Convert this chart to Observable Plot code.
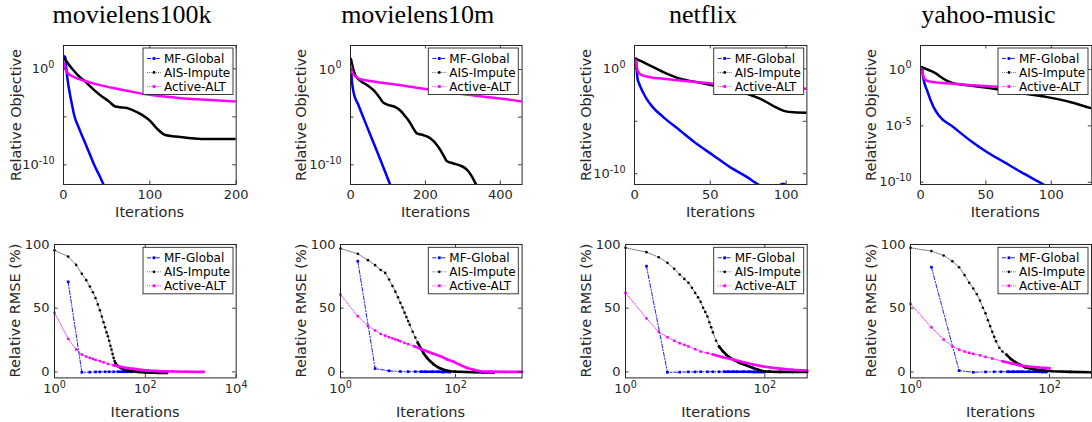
<!DOCTYPE html>
<html><head><meta charset="utf-8">
<script src="https://cdn.jsdelivr.net/npm/d3@7"></script>
<script src="https://cdn.jsdelivr.net/npm/@observablehq/plot@0.6"></script>
<style>
html,body{margin:0;padding:0;background:#fff;overflow:hidden;}
#fig{position:relative;width:1092px;height:422px;overflow:hidden;background:#fff;}
#fig > div.panel{position:absolute;}
#fig svg{max-width:none;}
#overlay{position:absolute;left:0;top:0;pointer-events:none;overflow:visible;}
</style></head><body><div id="fig"></div>
<script>
// ---------------- DATA ----------------
const datasets = ["movielens100k", "movielens10m", "netflix", "yahoo-music"];
const seriesNames = ["MF-Global", "AIS-Impute", "Active-ALT"];

// Relative objective: [iteration, log10(value)]
const objLog_ml100k_MF  = [[1,1.3],[2,1.2],[3,0.3],[4,-0.6],[5,-1.3],[6,-1.9],[8,-2.9],[10,-3.8],[12,-4.7],[18,-6.2],[24,-7.5],[30,-8.8],[36,-10.1],[42,-11.2],[48,-12.4]];
const objLog_ml100k_AIS = [[1,1.1],[10,0.0],[20,-0.95],[25,-1.3],[30,-1.75],[43,-2.78],[52,-3.35],[60,-3.93],[65,-4.0],[72,-4.05],[80,-4.3],[90,-4.75],[100,-5.4],[108,-6.2],[118,-6.9],[130,-7.05],[145,-7.2],[160,-7.3],[200,-7.3]];
const objLog_ml100k_ALT = [[1,0.55],[3,-0.2],[6,-0.52],[12,-0.85],[23,-1.22],[40,-1.65],[62,-2.08],[80,-2.4],[100,-2.7],[120,-2.92],[140,-3.1],[170,-3.25],[200,-3.4]];

const objLog_ml10m_MF  = [[1,1.1],[2,0.2],[3,-0.8],[6,-1.9],[9,-2.55],[20,-3.63],[40,-5.6],[60,-7.55],[80,-9.5],[100,-11.5],[112,-12.7]];
const objLog_ml10m_AIS = [[1,1.1],[13,-0.63],[30,-1.3],[45,-1.65],[62,-2.2],[75,-2.8],[88,-3.5],[106,-3.78],[120,-3.95],[133,-4.3],[145,-4.85],[155,-5.35],[165,-6.0],[177,-6.7],[195,-6.9],[208,-7.1],[221,-7.5],[230,-7.9],[239,-8.4],[248,-9.0],[257,-9.6],[274,-9.85],[292,-10.07],[304,-10.3],[314,-10.66],[325,-11.3],[336,-12.1],[345,-12.6]];
const objLog_ml10m_ALT = [[1,0.4],[4,-0.28],[10,-0.6],[18,-0.87],[30,-1.05],[62,-1.26],[100,-1.48],[151,-1.75],[200,-2.05],[240,-2.3],[290,-2.55],[329,-2.73],[400,-3.05],[458,-3.36]];

const objLog_netflix_MF  = [[1,0.95],[2,-0.95],[3,-1.4],[4,-1.75],[6,-2.35],[8,-2.86],[12,-3.65],[19,-4.6],[30,-5.87],[41,-7.14],[52,-8.25],[63,-9.37],[74,-10.3],[82,-11.05],[90,-11.6],[98,-10.95],[104,-11.6]];
const objLog_netflix_AIS = [[1,0.95],[8,0.48],[19,-0.32],[30,-0.95],[41,-1.27],[52,-1.59],[63,-1.9],[74,-2.38],[85,-3.0],[93,-3.65],[99,-4.03],[105,-4.15],[114,-4.19]];
const objLog_netflix_ALT = [[1,0.8],[2,-0.16],[4,-0.54],[8,-0.73],[19,-0.95],[30,-1.11],[52,-1.43],[74,-1.68],[96,-1.81],[114,-1.9]];

const objLog_yahoo_MF  = [[1,0.2],[2,-0.68],[5,-1.86],[10,-3.34],[14,-4.08],[25,-5.1],[38,-6.3],[51,-7.34],[64,-8.22],[77,-9.1],[94,-10.2],[97,-10.4]];
const objLog_yahoo_AIS = [[1,0.2],[10,-0.24],[20,-0.98],[25,-1.21],[38,-1.42],[51,-1.63],[77,-2.1],[97,-2.45],[115,-2.9],[131,-3.45]];
const objLog_yahoo_ALT = [[1,0.06],[3,-0.83],[7,-1.07],[25,-1.27],[51,-1.48],[77,-1.63],[95,-1.7]];

// Relative RMSE (%): [iteration, value]
const rmse_ml100k_MF  = [[2,70.7],[4,-0.3],[6,-0.2],[8,0],[10,0],[13,0.1],[16,0.1],[20,0.1],[25,0.1],[32,0.1],[40,0.1],[50,0.1]];
const rmse_ml100k_AIS = [[1,95.5],[2,90.5],[3,84],[4,77],[5,72],[6,67],[7,62.5],[8,58],[9,53],[10,48.4],[11,43.5],[12,39],[13,35],[14,31],[15,28],[16,24.5],[17,20.5],[18,17.5],[19,14],[20,11],[21,8.5],[22,7],[24,5],[26,4],[30,2.8],[35,1.8],[40,1.2],[50,0.6],[70,0],[100,-0.5],[150,-0.7],[200,-0.8],[300,-0.8]];
const rmse_ml100k_ALT = [[1,46.3],[2,26],[3,17.6],[4,13.6],[5,12],[6,11],[7,10.2],[8,9.5],[10,8.5],[12,7.5],[15,6.3],[20,5.2],[25,4.5],[30,3.8],[40,3],[55,2.4],[80,1.6],[120,1],[200,0.6],[400,0.3],[800,0.1],[1900,0]];

const rmse_ml10m_MF  = [[2,86.9],[4,2.6],[7,0.8],[11,0.3],[15,0.2],[20,0.2],[25,0.1],[30,0.1],[40,0.1],[50,0.1],[60,0],[80,0]];
const rmse_ml10m_AIS = [[1,96.9],[2,92.7],[3,87.7],[4,83.8],[5,80],[6,77.7],[7,72.5],[8,67.5],[9,63],[10,58.5],[11,54.2],[12,50.5],[13,46.5],[14,43],[15,40],[16,37],[18,31.5],[20,27],[22,23],[25,18.5],[28,14.5],[32,11],[36,8.5],[42,5.8],[50,3.6],[55,2.6],[65,1.5],[82,0.5],[100,0.2],[150,-0.1],[209,-0.3],[300,-0.4],[465,-0.5]];
const rmse_ml10m_ALT = [[1,60.7],[2,43.7],[3,35.9],[4,32.5],[5,29.8],[6,28.5],[7,27.2],[8,26.3],[9,25.5],[10,24.8],[11,24.1],[13,22.8],[15,21.8],[19,20.2],[25,18],[32,16.2],[40,14.5],[55,12.3],[70,10],[93,7.9],[120,5.5],[159,3.1],[200,1.8],[272,0.5],[400,0.2],[700,0],[1439,0]];

const rmse_netflix_MF  = [[2,83],[4,-0.3],[6,-0.2],[8,0],[10,0],[12,0.1],[15,0.1],[18,0.1],[22,0.1],[26,0.1],[30,0.1],[35,0.1],[40,0.1],[50,0.1],[60,0.1],[70,0],[80,0],[90,0],[100,0]];
const rmse_netflix_AIS = [[1,97.4],[2,94],[3,90],[4,85.6],[5,81],[6,76.5],[7,73],[8,70],[9,66],[10,62],[11,58.5],[12,55],[13,50.3],[14,47],[15,43.5],[16,39],[17,35],[18,31],[20,24.5],[22,20],[25,16.2],[28,13.5],[31,11.5],[37,9],[44,7],[55,5],[68,3.1],[80,1.8],[95,0.5],[120,0.2],[165,0],[250,0],[406,0]];
const rmse_netflix_ALT = [[1,62],[2,42],[3,31.4],[4,27.2],[5,24.5],[6,22.5],[7,21.2],[8,20],[10,17.8],[12,16],[15,14.8],[18,13.6],[25,11.5],[35,9.7],[50,7.5],[68,5.8],[100,4],[165,2.6],[250,1.7],[406,1]];

const rmse_yahoo_MF  = [[2,82.2],[5,1],[8,-0.3],[12,0],[16,0.1],[20,0.1],[25,0.1],[30,0.1],[35,0.1],[40,0.1],[50,0.1],[60,0.1],[70,0.1],[80,0],[90,0]];
const rmse_yahoo_AIS = [[1,97.4],[2,94.8],[3,91.4],[4,86.9],[5,82.2],[6,76],[7,69.9],[8,65.5],[9,61],[10,56],[11,50.3],[12,46],[13,40.5],[14,35.9],[15,31.5],[16,27.5],[17,24],[19,19],[21,16],[24,13.6],[28,10],[32,7.8],[37,5.8],[45,3.5],[64,1.8],[85,1],[111,0.5],[200,0],[402,-0.3]];
const rmse_yahoo_ALT = [[1,53.4],[2,35],[3,25.4],[4,20],[5,17.5],[6,16],[7,15],[8,14.2],[10,13],[12,11.8],[15,10.5],[21,8.4],[28,6.8],[37,5.2],[50,4.2],[70,3.5],[90,3.1],[100,2.9]];

// Ticks
const objXTicks = [[0,100,200],[0,200,400],[0,50,100],[0,50,100]];
const objYTicks = [1, 1e-5, 1e-10];
const objYTickLabels = [[1,1e-10],[1,1e-10],[1,1e-10],[1,1e-5,1e-10]];
const rmseXTicks = [[1,100,1e4],[1,100],[1,100],[1,100]];
const rmseYTicks = [0, 50, 100];

// ---------------- LAYOUT ----------------
const topFrames = [
  {x0:63.3, x1:236, y0:45, y1:184},
  {x0:349.7, x1:521.3, y0:45, y1:184},
  {x0:634.3, x1:806.7, y0:45, y1:184},
  {x0:919.7, x1:1091, y0:45, y1:184}];
const botFrames = [
  {x0:54.3, x1:236, y0:244.3, y1:377.7},
  {x0:339.7, x1:521.3, y0:244.3, y1:377.7},
  {x0:625, x1:806.7, y0:244.3, y1:377.7},
  {x0:910, x1:1091, y0:244.3, y1:377.7}];
const topXDomains = [[0,200],[0,458],[0,113.7],[0,131]];
const topYLogDomains = [[-12.05,2.43],[-12.07,2.52],[-11.02,2.22],[-10.2,2.13]];
const botXDomains = [[1,1e4],[1,1439],[1,406],[1,402]];
const botYDomain = [-4.7, 100];
const titleX = [132, 417.7, 703, 988.5];
const ylabX = [15.5, 301.3, 586, 871.3];

const objSeries = [
  [objLog_ml100k_MF, objLog_ml100k_AIS, objLog_ml100k_ALT],
  [objLog_ml10m_MF, objLog_ml10m_AIS, objLog_ml10m_ALT],
  [objLog_netflix_MF, objLog_netflix_AIS, objLog_netflix_ALT],
  [objLog_yahoo_MF, objLog_yahoo_AIS, objLog_yahoo_ALT]];
const rmseSeries = [
  [rmse_ml100k_MF, rmse_ml100k_AIS, rmse_ml100k_ALT],
  [rmse_ml10m_MF, rmse_ml10m_AIS, rmse_ml10m_ALT],
  [rmse_netflix_MF, rmse_netflix_AIS, rmse_netflix_ALT],
  [rmse_yahoo_MF, rmse_yahoo_AIS, rmse_yahoo_ALT]];

const COLORS = ["#0000ff", "#000000", "#ff00ff"];
const THIN = [
  {w:0.9, dash:"4,1.8,1.2,1.8", sym:"square", r:1.5},
  {w:0.6, dash:"1,1.2", sym:"circle", r:1.3},
  {w:0.8, dash:"1,1.2", sym:"square", r:1.4}];
const DENSE_FROM = [25, 22, 16];
const AX = "#262626";
const fig = document.getElementById("fig");
const svgNS = "http://www.w3.org/2000/svg";
const ML = 70, MR = 6, MT = 6, MB = 30;

function superscripts(svg) {
  svg.querySelectorAll("text").forEach(t => {
    const m = /^10\^(-?\d+)$/.exec(t.textContent);
    if (m) {
      t.textContent = "10";
      const ts = document.createElementNS(svgNS, "tspan");
      ts.setAttribute("dy", "-0.55em");
      ts.setAttribute("font-size", "0.74em");
      ts.textContent = m[1];
      t.appendChild(ts);
    }
  });
}
const fmtPow = d => "10^" + Math.round(Math.log10(d));

function frameMarks(fr, xt, yt) {
  const fw = fr.x1 - fr.x0, fh = fr.y1 - fr.y0, L = 3.5;
  return [
    Plot.ruleX(xt, {x: d => d, insetTop: fh - L, stroke: AX, strokeWidth: 0.9}),
    Plot.ruleX(xt, {x: d => d, insetBottom: fh - L, stroke: AX, strokeWidth: 0.9}),
    Plot.ruleY(yt, {y: d => d, insetRight: fw - L, stroke: AX, strokeWidth: 0.9}),
    Plot.ruleY(yt, {y: d => d, insetLeft: fw - L, stroke: AX, strokeWidth: 0.9}),
    Plot.frame({stroke: AX, strokeWidth: 1})
  ];
}

function place(fr, opts) {
  const fw = fr.x1 - fr.x0, fh = fr.y1 - fr.y0;
  const W = fw + ML + MR, H = fh + MT + MB;
  const svg = Plot.plot(Object.assign({
    width: W, height: H,
    marginLeft: ML, marginRight: MR, marginTop: MT, marginBottom: MB,
    style: {background: "transparent", fontFamily: "DejaVu Sans", fontSize: "13px", color: AX, overflow: "visible", maxWidth: "none"}
  }, opts));
  superscripts(svg);
  const div = document.createElement("div");
  div.className = "panel";
  div.style.left = (fr.x0 - ML) + "px";
  div.style.top = (fr.y0 - MT) + "px";
  div.style.width = W + "px";
  div.style.height = H + "px";
  div.appendChild(svg);
  fig.appendChild(div);
}

// ---- top row: relative objective ----
for (let p = 0; p < 4; p++) {
  const fr = topFrames[p];
  const marks = [];
  objSeries[p].forEach((arr, s) => {
    const data = arr.map(([it, e]) => ({it, v: Math.pow(10, e)}));
    marks.push(Plot.line(data, {x: "it", y: "v", stroke: COLORS[s], strokeWidth: 2.5, curve: "monotone-x", clip: true}));
  });
  marks.push(...frameMarks(fr, objXTicks[p], objYTicks));
  place(fr, {
    x: {type: "linear", domain: topXDomains[p], ticks: objXTicks[p], tickFormat: d => String(d), tickSize: 0, tickPadding: 5, label: null},
    y: {type: "log", domain: [Math.pow(10, topYLogDomains[p][0]), Math.pow(10, topYLogDomains[p][1])], ticks: objYTickLabels[p], tickFormat: fmtPow, tickSize: 0, tickPadding: 9, label: null},
    marks
  });
}

// ---- bottom row: relative RMSE ----
for (let p = 0; p < 4; p++) {
  const fr = botFrames[p];
  const marks = [];
  rmseSeries[p].forEach((arr, s) => {
    const data = arr.map(([it, v]) => ({it, v}));
    const st = THIN[s];
    marks.push(Plot.line(data, {x: "it", y: "v", stroke: COLORS[s], strokeWidth: st.w, strokeDasharray: st.dash, clip: true}));
    marks.push(Plot.dot(data, {x: "it", y: "v", fill: COLORS[s], stroke: "none", symbol: st.sym, r: st.r}));
    marks.push(Plot.line(data.filter(d => d.it >= DENSE_FROM[s]), {x: "it", y: "v", stroke: COLORS[s], strokeWidth: 2.6, clip: true}));
  });
  marks.push(...frameMarks(fr, rmseXTicks[p], rmseYTicks));
  place(fr, {
    x: {type: "log", domain: botXDomains[p], ticks: rmseXTicks[p], tickFormat: fmtPow, tickSize: 0, tickPadding: 6, label: null},
    y: {type: "linear", domain: botYDomain, ticks: rmseYTicks, tickFormat: d => String(d), tickSize: 0, tickPadding: 5, label: null},
    marks
  });
}

// ---- overlay: titles, axis labels, legends ----
const ov = d3.select(fig).append("svg").attr("id", "overlay").attr("width", 1092).attr("height", 422)
  .attr("font-family", "DejaVu Sans");
datasets.forEach((name, p) => {
  ov.append("text").attr("x", titleX[p]).attr("y", 23).attr("text-anchor", "middle")
    .attr("font-family", "Liberation Serif, Times New Roman, serif").attr("font-size", 26).attr("fill", "#000").text(name);
  ov.append("text").attr("transform", `translate(${ylabX[p]},115) rotate(-90)`).attr("text-anchor", "middle")
    .attr("dy", "0.35em").attr("font-size", 14.5).attr("fill", AX).text("Relative Objective");
  ov.append("text").attr("transform", `translate(${ylabX[p] - 0.5},310.5) rotate(-90)`).attr("text-anchor", "middle")
    .attr("dy", "0.35em").attr("font-size", 14.5).attr("fill", AX).text("Relative RMSE (%)");
  const tf = topFrames[p], bf = botFrames[p];
  ov.append("text").attr("x", (tf.x0 + tf.x1) / 2).attr("y", 217.3).attr("text-anchor", "middle")
    .attr("font-size", 14.5).attr("fill", AX).text("Iterations");
  ov.append("text").attr("x", (bf.x0 + bf.x1) / 2).attr("y", 416.5).attr("text-anchor", "middle")
    .attr("font-size", 14.5).attr("fill", AX).text("Iterations");
});

function legend(fr) {
  const w = 90, h = 46.5, x = fr.x1 - 3 - w, y = fr.y0 + 3;
  const g = ov.append("g");
  g.append("rect").attr("x", x).attr("y", y).attr("width", w).attr("height", h)
    .attr("fill", "#fff").attr("stroke", AX).attr("stroke-width", 0.9);
  seriesNames.forEach((name, s) => {
    const yy = y + 10.5 + 14 * s;
    g.append("line").attr("x1", x + 4).attr("x2", x + 18).attr("y1", yy).attr("y2", yy)
      .attr("stroke", COLORS[s]).attr("stroke-width", THIN[s].w).attr("stroke-dasharray", THIN[s].dash);
    if (THIN[s].sym === "square") {
      g.append("rect").attr("x", x + 9.6).attr("y", yy - 1.4).attr("width", 2.8).attr("height", 2.8).attr("fill", COLORS[s]);
    } else {
      g.append("circle").attr("cx", x + 11).attr("cy", yy).attr("r", 1.4).attr("fill", COLORS[s]);
    }
    g.append("text").attr("x", x + 21).attr("y", yy).attr("dy", "0.36em").attr("font-size", 12).attr("fill", "#000").text(name);
  });
}
topFrames.forEach(legend);
botFrames.forEach(legend);
</script>
</body></html>
